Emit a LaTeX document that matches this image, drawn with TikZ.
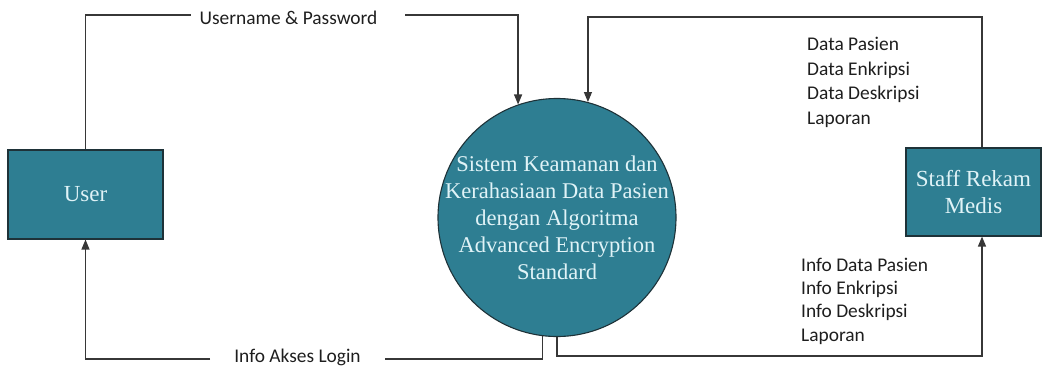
\documentclass[tikz,border=0pt]{standalone}
\usepackage{fontspec}
\setmainfont{Liberation Serif}
\newfontfamily\labelfont{Carlito}
\usetikzlibrary{arrows.meta}
\definecolor{tealfill}{RGB}{46,126,146}
\definecolor{tealtext}{RGB}{224,243,247}
\definecolor{edgeline}{RGB}{30,50,56}
\definecolor{flowline}{RGB}{55,55,55}
\definecolor{labeltext}{RGB}{30,30,30}
\begin{document}
\begin{tikzpicture}[x=1pt,y=-1pt,
  entity/.style={draw=edgeline, line width=1.1pt, fill=tealfill, text=tealtext,
    font=\fontsize{23}{27}\selectfont, align=center, inner sep=0},
  process/.style={circle, draw=edgeline, line width=1.1pt, fill=tealfill,
    minimum size=238pt, inner sep=0},
  proctext/.style={text=tealtext, font=\fontsize{22.5}{27}\selectfont,
    align=center, inner sep=0},
  flowseg/.style={draw=flowline, line width=1.2pt},
  flow/.style={flowseg, -{Triangle[length=10pt,width=8pt]}},
  flowlabel/.style={font=\labelfont\fontsize{19.4}{24.6}\selectfont,
    text=labeltext, inner sep=0}
]
\useasboundingbox (0,0) rectangle (1051,367);

% external entities and the process
\node[entity, minimum width=155pt, minimum height=89pt] (user) at (85.5,194.5) {User};
\node[entity, minimum width=135pt, minimum height=88pt] (staff) at (973.5,192) {Staff Rekam\\Medis};
\node[process] (circ) at (557,217.5) {};
\node[proctext] (circText) at (circ.center) {Sistem Keamanan dan\\Kerahasiaan Data Pasien\\dengan Algoritma\\Advanced Encryption\\Standard};

% flow labels
\node[flowlabel, anchor=base] (lblUP) at (288.5,24) {Username \& Password};
\node[flowlabel, anchor=base] (lblLogin) at (297.5,362) {Info Akses Login};
\node[flowlabel, anchor=north west, align=left] (lblData) at (807,37)
  {Data Pasien\\Data Enkripsi\\Data Deskripsi\\Laporan};
\node[flowlabel, anchor=north west, align=left,
  font=\labelfont\fontsize{19.4}{23.2}\selectfont] (lblInfo) at (801,258)
  {Info Data Pasien\\Info Enkripsi\\Info Deskripsi\\Laporan};

% route corners and label gaps
\coordinate (upL) at (191,15);
\coordinate (upR) at (405,15);
\coordinate (loginR) at (385,359);
\coordinate (loginL) at (210,359);
\coordinate (infoCorner) at (982,356);
\coordinate (dataCorner) at (982,17);

% User -> process
\draw[flowseg] (user.north) |- (upL);
\draw[flow] (upR) -| (circ.109);
% process -> User
\draw[flowseg] (circ.263) |- (loginR);
\draw[flow] (loginL) -| (user.south);
% process -> Staff
\draw[flow] (circ.south) |- (infoCorner) -- ([xshift=8.5pt]staff.south);
% Staff -> process
\draw[flow] ([xshift=8.5pt]staff.north) -- (dataCorner) -| (circ.75);
\end{tikzpicture}
\end{document}
